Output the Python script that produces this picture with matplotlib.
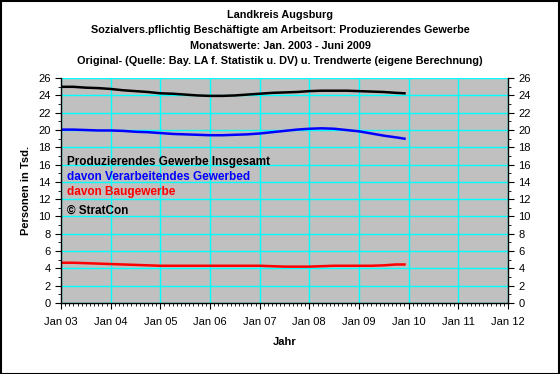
import matplotlib
matplotlib.use("Agg")
import matplotlib.pyplot as plt
from matplotlib.ticker import MultipleLocator
from matplotlib.patches import Rectangle

matplotlib.rcParams.update({'font.family': 'Liberation Sans'})

# months since Jan 2003
months = [0, 3, 6, 9, 12, 15, 18, 21, 24, 27, 30, 33, 36, 39, 42, 45, 48, 51, 54, 57,
          60, 63, 66, 69, 72, 75, 78, 81, 83]
gesamt = [25.0, 25.0, 24.9, 24.85, 24.75, 24.6, 24.5, 24.4, 24.25, 24.2, 24.1, 24.0,
          23.95, 23.95, 24.0, 24.1, 24.2, 24.3, 24.35, 24.4, 24.5, 24.55, 24.55, 24.55,
          24.5, 24.45, 24.4, 24.3, 24.25]
verarb = [20.05, 20.05, 20.0, 19.95, 19.95, 19.9, 19.8, 19.75, 19.65, 19.55, 19.5, 19.45,
          19.4, 19.4, 19.45, 19.5, 19.6, 19.75, 19.9, 20.05, 20.15, 20.2, 20.15, 20.0,
          19.85, 19.6, 19.35, 19.15, 19.0]
bau = [4.65, 4.65, 4.6, 4.55, 4.5, 4.45, 4.4, 4.35, 4.3, 4.3, 4.3, 4.3, 4.3, 4.3, 4.3,
       4.3, 4.3, 4.25, 4.2, 4.2, 4.2, 4.25, 4.3, 4.3, 4.3, 4.3, 4.35, 4.45, 4.45]
year_labels = ["Jan 03", "Jan 04", "Jan 05", "Jan 06", "Jan 07", "Jan 08", "Jan 09",
               "Jan 10", "Jan 11", "Jan 12"]
titles = ["Landkreis Augsburg",
          "Sozialvers.pflichtig Beschäftigte am Arbeitsort: Produzierendes Gewerbe",
          "Monatswerte: Jan. 2003 - Juni 2009",
          "Original- (Quelle: Bay. LA f. Statistik u. DV) u. Trendwerte (eigene Berechnung)"]
legend_items = [("Produzierendes Gewerbe Insgesamt", "black"),
                ("davon Verarbeitendes Gewerbed", "blue"),
                ("davon Baugewerbe", "red"),
                ("© StratCon", "black")]

fig = plt.figure(figsize=(5.6, 3.74), dpi=100)
fig.patch.set_facecolor("white")
fig.patches.append(Rectangle((0.001, 0.001), 0.997, 0.996, transform=fig.transFigure,
                             fill=False, edgecolor="black", linewidth=1.5))

ax = fig.add_axes([0.109, 0.19, 0.798, 0.601])
ax.set_facecolor("#C0C0C0")
ax.set_xlim(0, 108)
ax.set_ylim(0, 26)

ax.plot(months, gesamt, color="black", lw=1.8)
ax.plot(months, verarb, color="blue", lw=1.8)
ax.plot(months, bau, color="red", lw=1.8)

ax.set_xticks(range(0, 109, 12))
ax.set_xticklabels(year_labels)
ax.xaxis.set_minor_locator(MultipleLocator(1))
ax.yaxis.set_major_locator(MultipleLocator(2))
ax.yaxis.set_minor_locator(MultipleLocator(1))
ax.grid(True, which="major", color="#00FFFF", lw=1.0)
ax.set_axisbelow(True)
ax.spines["top"].set_visible(False)
for s in ["left", "bottom", "right"]:
    ax.spines[s].set_linewidth(1.0)
ax.tick_params(axis="both", which="major", labelsize=8, length=4, direction="out")
ax.tick_params(axis="both", which="minor", length=2, direction="out")
ax.tick_params(axis="y", which="both", right=True, labelright=True)
ax.tick_params(axis="x", which="major", pad=6)

ax.set_ylabel("Personen in Tsd.", fontsize=8, fontweight="bold", labelpad=5)
ax.set_xlabel("Jahr", fontsize=8, fontweight="bold", labelpad=7)

for i, (txt, col) in enumerate(legend_items):
    ax.text(1.5, 16.35 - i * 1.75 - (0.4 if i == 3 else 0), txt, color=col,
            fontsize=8.5, fontweight="bold", va="center")

for i, t in enumerate(titles):
    fig.text(0.5, 1 - (15 + i * 15.3) / 374, t, ha="center", va="center",
             fontsize=7.8, fontweight="bold")

fig.savefig("out.png", dpi=100)
